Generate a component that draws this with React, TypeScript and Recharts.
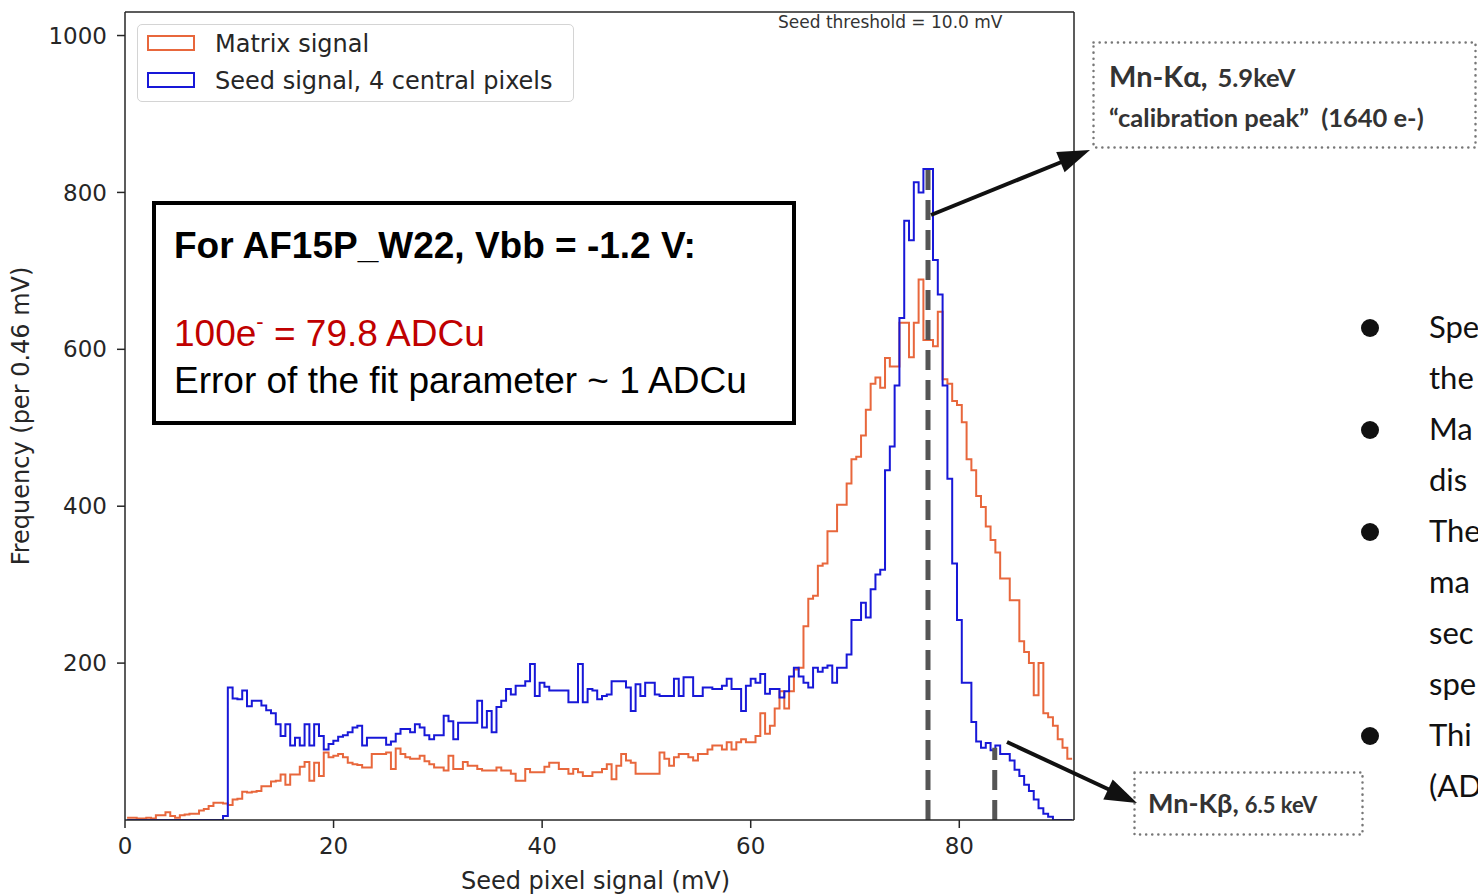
import React from 'react';
import { ComposedChart, Line, XAxis, YAxis, ReferenceLine, Legend } from 'recharts';

// ---- data ----
const BIN_START = 0.2; // mV, left edge of first bin
const BIN_WIDTH = 0.46; // mV per bin

const MATRIX_SIGNAL = [
  3, 3, 2, 2, 3, 2, 6, 6, 10, 5,
  3, 6, 7, 8, 8, 12, 14, 18, 22, 22,
  21, 19, 26, 27, 36, 35, 36, 37, 43, 43,
  49, 50, 58, 45, 58, 58, 68, 74, 50, 73,
  56, 86, 80, 82, 84, 80, 73, 71, 70, 67,
  67, 84, 84, 84, 86, 65, 91, 84, 80, 78,
  78, 82, 75, 71, 67, 67, 63, 82, 65, 65,
  74, 69, 69, 65, 63, 63, 63, 67, 63, 63,
  59, 50, 50, 65, 61, 61, 61, 68, 73, 73,
  65, 65, 59, 65, 61, 56, 56, 61, 61, 65,
  71, 52, 69, 84, 76, 73, 59, 59, 59, 59,
  59, 86, 78, 69, 80, 84, 84, 80, 76, 84,
  84, 90, 95, 95, 90, 99, 90, 99, 103, 99,
  99, 107, 136, 110, 120, 142, 164, 142, 164, 192,
  194, 247, 282, 286, 324, 327, 368, 368, 402, 402,
  429, 460, 463, 490, 523, 556, 564, 551, 589, 578,
  578, 634, 634, 590, 634, 689, 612, 612, 604, 648,
  562, 556, 534, 529, 507, 460, 446, 413, 399, 374,
  357, 341, 308, 308, 280, 280, 228, 214, 200, 159,
  200, 136, 131, 120, 103, 92, 78,
];

const SEED_SIGNAL = [
  0, 0, 0, 0, 0, 0, 0, 0, 0, 0,
  0, 0, 0, 0, 0, 0, 0, 0, 0, 0,
  5, 169, 155, 154, 165, 145, 152, 152, 146, 140,
  136, 122, 107, 122, 95, 105, 95, 122, 95, 122,
  107, 90, 97, 101, 106, 108, 112, 118, 120, 95,
  105, 105, 105, 105, 96, 100, 110, 116, 116, 112,
  122, 118, 108, 103, 108, 108, 133, 126, 103, 124,
  124, 124, 124, 152, 118, 139, 112, 144, 152, 167,
  160, 171, 171, 177, 199, 158, 175, 170, 165, 165,
  165, 165, 150, 150, 199, 150, 167, 165, 154, 158,
  160, 177, 177, 177, 169, 139, 173, 158, 175, 175,
  160, 158, 158, 158, 180, 158, 182, 182, 158, 158,
  169, 169, 167, 167, 171, 180, 167, 167, 139, 171,
  180, 175, 186, 161, 167, 167, 156, 164, 183, 194,
  183, 175, 169, 194, 189, 194, 197, 175, 194, 194,
  211, 255, 255, 277, 258, 294, 313, 319, 446, 476,
  554, 640, 764, 739, 813, 800, 830, 830, 714, 670,
  554, 435, 327, 255, 175, 175, 125, 100, 92, 98,
  89, 95, 84, 84, 76, 64, 56, 45, 37, 26,
  15, 8, 4, 0, 0, 0, 0,
];

const X_TICKS = [0, 20, 40, 60, 80];
const Y_TICKS = [200, 400, 600, 800, 1000];
const X_MAX = 91;
const Y_MAX = 1030;

const K_ALPHA_X = 77.0;
const K_ALPHA_TOP = 830;
const K_BETA_X = 83.4;
const K_BETA_TOP = 92;

const X_LABEL = 'Seed pixel signal (mV)';
const Y_LABEL = 'Frequency (per 0.46 mV)';
const THRESHOLD_TEXT = 'Seed threshold = 10.0 mV';

const BOX_TITLE = 'For AF15P_W22, Vbb = -1.2 V:';
const BOX_LINE_RED_A = '100e';
const BOX_LINE_RED_SUP = '-';
const BOX_LINE_RED_B = ' = 79.8 ADCu';
const BOX_LINE_ERR = 'Error of the fit parameter ~ 1 ADCu';

const KA_MAIN = 'Mn-K\u03b1,';
const KA_ENERGY = '5.9keV';
const KA_SUB = '\u201ccalibration peak\u201d\u00a0\u00a0(1640 e-)';
const KB_MAIN = 'Mn-K\u03b2,';
const KB_ENERGY = '6.5 keV';

const BULLET_LINES = [
  { text: 'Spe', bullet: true },
  { text: 'the', bullet: false },
  { text: 'Ma', bullet: true },
  { text: 'dis', bullet: false },
  { text: 'The', bullet: true },
  { text: 'ma', bullet: false },
  { text: 'sec', bullet: false },
  { text: 'spe', bullet: false },
  { text: 'Thi', bullet: true },
  { text: '(AD', bullet: false },
];

// ---- styles ----
const MATRIX_COLOR = '#e8673c';
const SEED_COLOR = '#1818d8';
const AXIS_COLOR = '#262626';
const FONT = 'DejaVu Sans';

const SERIES = [
  { key: 'matrix', name: 'Matrix signal', color: MATRIX_COLOR },
  { key: 'seed', name: 'Seed signal, 4 central pixels', color: SEED_COLOR },
];

const rows: { x: number; matrix: number; seed: number }[] = MATRIX_SIGNAL.map((v, k) => ({
  x: Math.round((BIN_START + k * BIN_WIDTH) * 1000) / 1000,
  matrix: v,
  seed: SEED_SIGNAL[k],
}));
rows.push({
  x: Math.round((BIN_START + MATRIX_SIGNAL.length * BIN_WIDTH) * 1000) / 1000,
  matrix: MATRIX_SIGNAL[MATRIX_SIGNAL.length - 1],
  seed: SEED_SIGNAL[SEED_SIGNAL.length - 1],
});

const XLabel = (props: any) => {
  const vb = props.viewBox || { x: 125, y: 820, width: 949, height: 75 };
  return (
    <text
      x={vb.x + vb.width / 2 - 4}
      y={vb.y + vb.height - 6}
      textAnchor="middle"
      fontFamily={FONT}
      fontSize={24}
      fill={AXIS_COLOR}
    >
      {X_LABEL}
    </text>
  );
};

const YLabel = (props: any) => {
  const vb = props.viewBox || { x: 0, y: 12, width: 125, height: 808 };
  const cx = vb.x + 29;
  const cy = vb.y + vb.height / 2;
  return (
    <text
      x={cx}
      y={cy}
      transform={`rotate(-90 ${cx} ${cy})`}
      textAnchor="middle"
      fontFamily={FONT}
      fontSize={24}
      fill={AXIS_COLOR}
    >
      {Y_LABEL}
    </text>
  );
};

const LegendBox = (props: any) => {
  const payload =
    props && props.payload && props.payload.length
      ? props.payload.map((p: any) => ({ name: p.value, color: p.color }))
      : SERIES.map((s) => ({ name: s.name, color: s.color }));
  return (
    <div
      style={{
        position: 'relative',
        width: 437,
        height: 78,
        boxSizing: 'border-box',
        border: '1.5px solid #d4d4d4',
        borderRadius: 5,
        background: 'rgba(255,255,255,0.85)',
        fontFamily: FONT,
        fontSize: 24,
        color: AXIS_COLOR,
      }}
    >
      {payload.map((p: any, i: number) => (
        <React.Fragment key={p.name}>
          <div
            style={{
              position: 'absolute',
              left: 9,
              top: 10 + i * 37,
              width: 48,
              height: 16,
              boxSizing: 'border-box',
              border: `2px solid ${p.color}`,
            }}
          />
          <div
            style={{
              position: 'absolute',
              left: 77,
              top: 4 + i * 37,
              height: 30,
              lineHeight: '30px',
              whiteSpace: 'nowrap',
            }}
          >
            {p.name}
          </div>
        </React.Fragment>
      ))}
    </div>
  );
};

const axisLineStyle = { stroke: AXIS_COLOR, strokeWidth: 1.5 };

export default function App() {
  return (
    <div
      style={{
        position: 'absolute',
        left: 0,
        top: 0,
        width: 1478,
        height: 895,
        background: '#ffffff',
        overflow: 'hidden',
        fontFamily: FONT,
      }}
    >
      <ComposedChart
        width={1478}
        height={895}
        data={rows}
        margin={{ top: 12, right: 404, bottom: 0, left: 0 }}
      >
        <XAxis
          dataKey="x"
          type="number"
          domain={[0, X_MAX]}
          ticks={X_TICKS}
          allowDataOverflow
          height={75}
          tickSize={8}
          tickMargin={10}
          tick={{ fill: AXIS_COLOR, fontSize: 23, fontFamily: FONT }}
          tickLine={axisLineStyle}
          axisLine={axisLineStyle}
          label={{ content: (p: any) => <XLabel {...p} /> }}
        />
        <YAxis
          type="number"
          domain={[0, Y_MAX]}
          ticks={Y_TICKS}
          allowDataOverflow
          width={125}
          tickSize={8}
          tickMargin={10}
          tick={{ fill: AXIS_COLOR, fontSize: 23, fontFamily: FONT }}
          tickLine={axisLineStyle}
          axisLine={axisLineStyle}
          label={{ content: (p: any) => <YLabel {...p} /> }}
        />
        <Legend
          layout="vertical"
          align="center"
          verticalAlign="middle"
          width={437}
          height={78}
          wrapperStyle={{ left: 137, top: 24, width: 437, height: 78 }}
          content={(p: any) => <LegendBox {...p} />}
        />
        {/* top and right spines of the axes frame */}
        <ReferenceLine y={Y_MAX} stroke={AXIS_COLOR} strokeWidth={1.5} />
        <ReferenceLine x={X_MAX} stroke={AXIS_COLOR} strokeWidth={1.5} />
        <Line
          dataKey="matrix"
          name={SERIES[0].name}
          type="stepAfter"
          stroke={MATRIX_COLOR}
          strokeWidth={2}
          dot={false}
          activeDot={false}
          isAnimationActive={false}
        />
        <Line
          dataKey="seed"
          name={SERIES[1].name}
          type="stepAfter"
          stroke={SEED_COLOR}
          strokeWidth={2}
          dot={false}
          activeDot={false}
          isAnimationActive={false}
        />
        <ReferenceLine
          segment={[
            { x: K_ALPHA_X, y: 0 },
            { x: K_ALPHA_X, y: K_ALPHA_TOP },
          ]}
          stroke="#555555"
          strokeWidth={5}
          strokeDasharray="20 10"
        />
        <ReferenceLine
          segment={[
            { x: K_BETA_X, y: 0 },
            { x: K_BETA_X, y: K_BETA_TOP },
          ]}
          stroke="#555555"
          strokeWidth={5}
          strokeDasharray="20 10"
        />
      </ComposedChart>

      <svg
        width={1478}
        height={895}
        style={{ position: 'absolute', left: 0, top: 0, pointerEvents: 'none' }}
      >
        {/* threshold note */}
        <text x={778} y={28} fontFamily={FONT} fontSize={17} fill="#333">
          {THRESHOLD_TEXT}
        </text>

        {/* calibration text box */}
        <rect x={154} y={203} width={640} height={220} fill="#ffffff" stroke="#000" strokeWidth={4} />
        <text x={174} y={258} fontFamily="Liberation Sans" fontWeight={700} fontSize={37} fill="#000">
          {BOX_TITLE}
        </text>
        <text x={174} y={346} fontFamily="Liberation Sans" fontSize={37} fill="#c00000">
          {BOX_LINE_RED_A}
          <tspan fontSize={22} dy={-17}>{BOX_LINE_RED_SUP}</tspan>
          <tspan dy={17}>{BOX_LINE_RED_B}</tspan>
        </text>
        <text x={174} y={393} fontFamily="Liberation Sans" fontSize={37} fill="#000">
          {BOX_LINE_ERR}
        </text>

        {/* K-alpha annotation */}
        <rect
          x={1093.5}
          y={42.5}
          width={382}
          height={105}
          fill="none"
          stroke="#777"
          strokeWidth={2.5}
          strokeDasharray="0.1 6"
          strokeLinecap="round"
        />
        <text x={1109} y={87} fontFamily="Lato" fontWeight={700} fill="#333">
          <tspan fontSize={29}>{KA_MAIN}</tspan>
          <tspan fontSize={25.5} dx={10}>{KA_ENERGY}</tspan>
        </text>
        <text x={1109} y={127} fontFamily="Lato" fontWeight={700} fontSize={25.5} fill="#333">
          {KA_SUB}
        </text>
        <line x1={931} y1={215} x2={1064} y2={161} stroke="#111" strokeWidth={4} />
        <polygon points="1090,150 1064.6,172.3 1056.2,151.9" fill="#111" />

        {/* K-beta annotation */}
        <rect
          x={1134.5}
          y={772.5}
          width={228}
          height={62}
          fill="none"
          stroke="#777"
          strokeWidth={2.5}
          strokeDasharray="0.1 6"
          strokeLinecap="round"
        />
        <text x={1148} y={813} fontFamily="Lato" fontWeight={700} fill="#333">
          <tspan fontSize={27}>{KB_MAIN}</tspan>
          <tspan fontSize={22} dx={6}>{KB_ENERGY}</tspan>
        </text>
        <line x1={1007} y1={742} x2={1110} y2={790} stroke="#111" strokeWidth={4} />
        <polygon points="1137,803 1103.3,799.4 1112.7,779.4" fill="#111" />

        {/* cut-off bullet list at the right edge of the slide */}
        {BULLET_LINES.map((l, i) => {
          const base = 338 + i * 51;
          return (
            <g key={i}>
              {l.bullet && <circle cx={1370} cy={base - 10} r={9} fill="#111" />}
              <text x={1429} y={base} fontFamily="Lato" fontSize={31} fill="#111">
                {l.text}
              </text>
            </g>
          );
        })}
      </svg>
    </div>
  );
}
